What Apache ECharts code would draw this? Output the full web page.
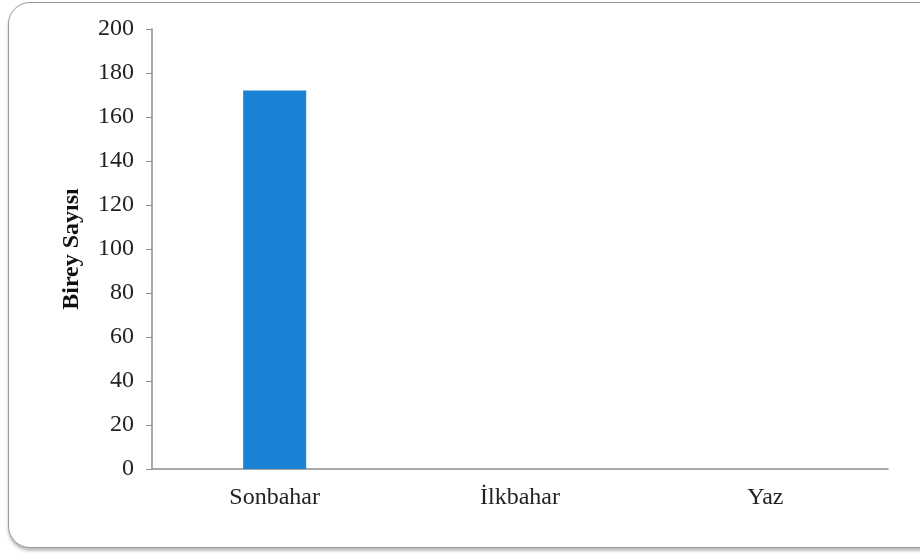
<!DOCTYPE html>
<html>
<head>
<meta charset="utf-8">
<script src="https://cdn.jsdelivr.net/npm/echarts@6/dist/echarts.min.js"></script>
<style>
html,body{margin:0;padding:0;background:#fff;}
#frame{position:absolute;left:8px;top:2px;width:940px;height:544px;border:1.5px solid #9a9a9a;border-radius:22px;box-shadow:0 3px 3px #bdbdbd;background:#fff;}
#chart{position:absolute;left:0;top:0;width:920px;height:558px;}
</style>
</head>
<body>
<div id="frame"></div>
<div id="chart"></div>
<script>
const categories = ['Sonbahar', 'İlkbahar', 'Yaz'];
const values = [172, 0, 0];
const yTicks = {min: 0, max: 200, interval: 20};

const chart = echarts.init(document.getElementById('chart'), null, {renderer: 'canvas'});
chart.setOption({
  backgroundColor: 'transparent',
  animation: false,
  grid: {left: 152, right: 32, top: 29, bottom: 89},
  xAxis: {
    type: 'category',
    data: categories,
    axisLine: {lineStyle: {color: '#8c8c8c', width: 1.5}},
    axisTick: {show: false},
    axisLabel: {color: '#222', fontFamily: 'Liberation Serif', fontSize: 24, margin: 17}
  },
  yAxis: {
    type: 'value',
    min: yTicks.min, max: yTicks.max, interval: yTicks.interval,
    name: 'Birey Sayısı',
    nameLocation: 'middle',
    nameGap: 68,
    nameTextStyle: {color: '#111', fontFamily: 'Liberation Serif', fontSize: 24, fontWeight: 'bold'},
    axisLine: {show: true, lineStyle: {color: '#8c8c8c', width: 1.5}},
    axisTick: {show: true, length: 6, lineStyle: {color: '#8c8c8c'}},
    splitLine: {show: false},
    axisLabel: {color: '#222', fontFamily: 'Liberation Serif', fontSize: 24, margin: 18}
  },
  series: [{
    type: 'bar',
    data: values,
    barWidth: '25.7%',
    itemStyle: {color: '#1a83d6'}
  }]
});
</script>
</body>
</html>
